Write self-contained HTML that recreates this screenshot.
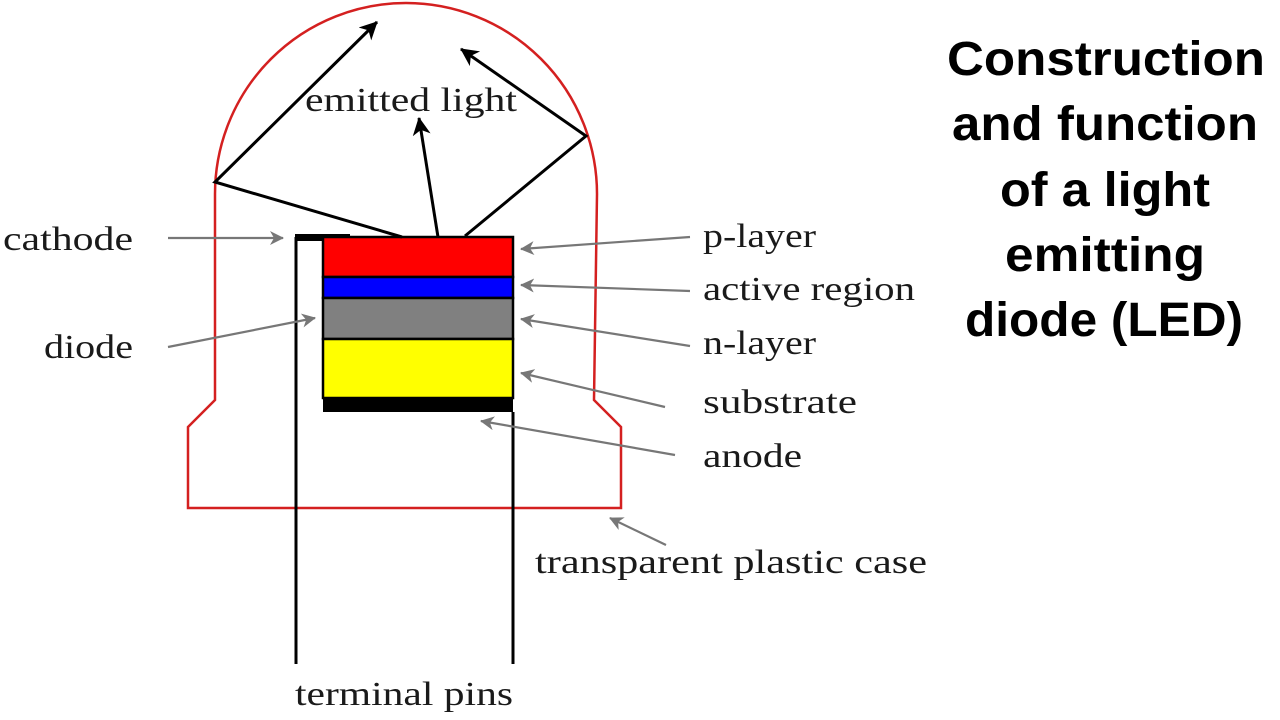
<!DOCTYPE html>
<html><head><meta charset="utf-8"><style>
html,body{margin:0;padding:0;background:#fff;}
svg{display:block;}
.s{font-family:"Liberation Serif",serif;font-size:34px;fill:#1a1a1a;}
.t{font-family:"Liberation Sans",sans-serif;font-weight:bold;font-size:48px;fill:#000;}
</style></head><body>
<svg width="1280" height="720" viewBox="0 0 1280 720" xmlns="http://www.w3.org/2000/svg">
<defs>
<marker id="ab" markerWidth="20" markerHeight="20" refX="17" refY="9" orient="auto" markerUnits="userSpaceOnUse"><path d="M0,0 L18,9 L0,18 L5,9 Z" fill="#000"/></marker>
<marker id="ag" markerWidth="16" markerHeight="16" refX="13" refY="7" orient="auto" markerUnits="userSpaceOnUse"><path d="M0,0 L14,7 L0,14 L4,7 Z" fill="#777"/></marker>
</defs>
<path d="M215,400 L215,194 A191,191 0 0 1 597,194 L594,400 L621,427 L621,508 L188,508 L188,427 Z" fill="none" stroke="#d42020" stroke-width="2.5"/>
<line x1="296" y1="237" x2="296" y2="664" stroke="#000" stroke-width="3"/>
<line x1="513" y1="412" x2="513" y2="664" stroke="#000" stroke-width="3"/>
<rect x="295" y="234" width="55" height="7" fill="#000"/>
<rect x="323" y="237" width="190" height="40" fill="#ff0000" stroke="#000" stroke-width="2.5"/>
<rect x="323" y="277" width="190" height="21" fill="#0000ff" stroke="#000" stroke-width="2.5"/>
<rect x="323" y="298" width="190" height="41" fill="#808080" stroke="#000" stroke-width="2.5"/>
<rect x="323" y="339" width="190" height="59" fill="#ffff00" stroke="#000" stroke-width="2.5"/>
<rect x="323" y="398" width="190" height="14" fill="#000"/>
<g stroke="#000" stroke-width="3" fill="none">
<polyline points="402,237 215,182 377,22" marker-end="url(#ab)"/>
<line x1="438" y1="237" x2="419" y2="118" marker-end="url(#ab)"/>
<polyline points="465,236 586,136 461,49" marker-end="url(#ab)"/>
</g>
<g stroke="#777" stroke-width="2.2">
<line x1="168" y1="238" x2="283" y2="238" marker-end="url(#ag)"/>
<line x1="168" y1="347" x2="315" y2="318" marker-end="url(#ag)"/>
<line x1="690" y1="237" x2="521" y2="249" marker-end="url(#ag)"/>
<line x1="690" y1="291" x2="521" y2="285" marker-end="url(#ag)"/>
<line x1="690" y1="346" x2="521" y2="319" marker-end="url(#ag)"/>
<line x1="665" y1="407" x2="521" y2="373" marker-end="url(#ag)"/>
<line x1="675" y1="455" x2="481" y2="421" marker-end="url(#ag)"/>
<line x1="666" y1="545" x2="610" y2="518" marker-end="url(#ag)"/>
</g>
<text class="s" x="3" y="250" textLength="130" lengthAdjust="spacingAndGlyphs">cathode</text>
<text class="s" x="44" y="358" textLength="89" lengthAdjust="spacingAndGlyphs">diode</text>
<text class="s" x="305" y="111" textLength="212" lengthAdjust="spacingAndGlyphs">emitted light</text>
<text class="s" x="703" y="247" textLength="113" lengthAdjust="spacingAndGlyphs">p-layer</text>
<text class="s" x="703" y="300" textLength="212" lengthAdjust="spacingAndGlyphs">active region</text>
<text class="s" x="703" y="354" textLength="113" lengthAdjust="spacingAndGlyphs">n-layer</text>
<text class="s" x="703" y="413" textLength="154" lengthAdjust="spacingAndGlyphs">substrate</text>
<text class="s" x="703" y="467" textLength="99" lengthAdjust="spacingAndGlyphs">anode</text>
<text class="s" x="535" y="573" textLength="392" lengthAdjust="spacingAndGlyphs">transparent plastic case</text>
<text class="s" x="295" y="705" textLength="218" lengthAdjust="spacingAndGlyphs">terminal pins</text>
<text class="t" x="947" y="75" textLength="318" lengthAdjust="spacingAndGlyphs">Construction</text>
<text class="t" x="952" y="140" textLength="306" lengthAdjust="spacingAndGlyphs">and function</text>
<text class="t" x="1000" y="206" textLength="210" lengthAdjust="spacingAndGlyphs">of a light</text>
<text class="t" x="1005" y="271" textLength="200" lengthAdjust="spacingAndGlyphs">emitting</text>
<text class="t" x="965" y="336" textLength="278" lengthAdjust="spacingAndGlyphs">diode (LED)</text>
</svg>
</body></html>
